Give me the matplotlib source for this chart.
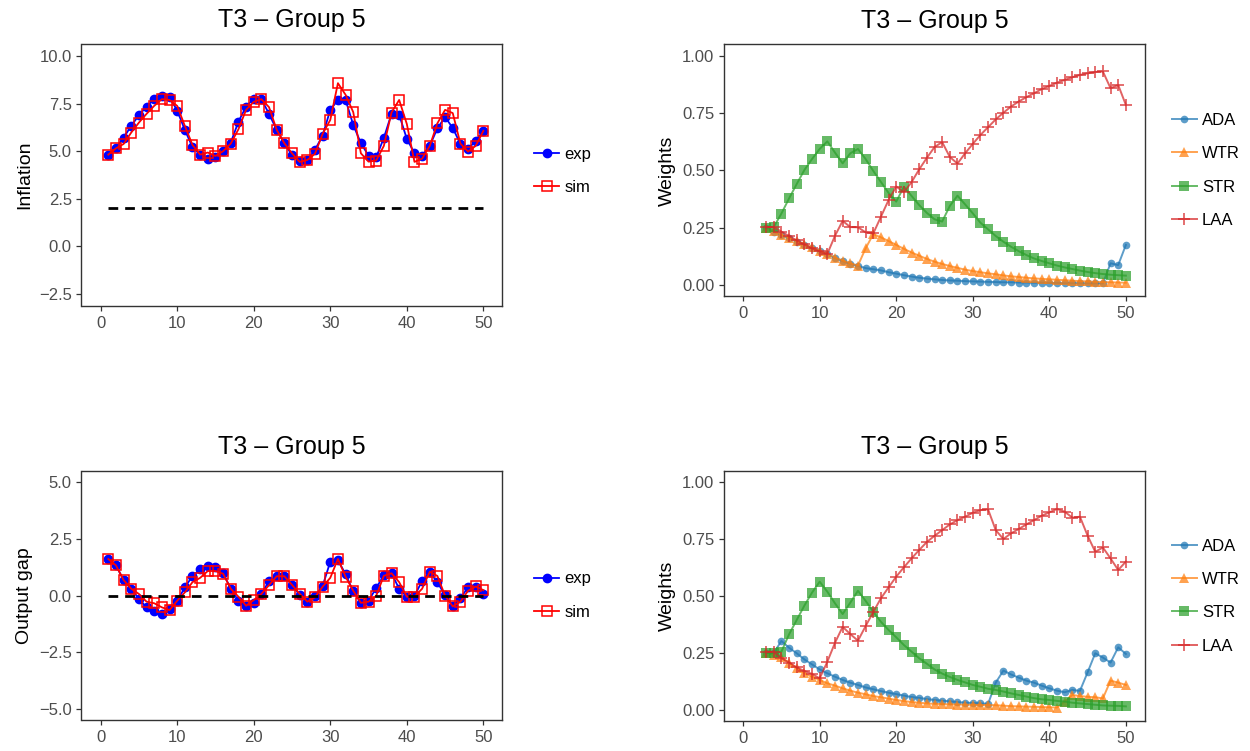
import matplotlib
matplotlib.use('Agg')
import matplotlib.pyplot as plt

plt.rcParams['font.family'] = ['Liberation Sans', 'DejaVu Sans']

# ---- data ----
periods = list(range(1, 51))
periods_w = list(range(3, 51))

inflation_exp = [4.82, 5.16, 5.71, 6.33, 6.89, 7.34, 7.73, 7.92, 7.84, 7.13,
                 6.12, 5.21, 4.82, 4.61, 4.68, 5.02, 5.45, 6.55, 7.34, 7.76,
                 7.73, 6.96, 6.12, 5.42, 4.79, 4.51, 4.54, 5.07, 5.82, 7.17,
                 7.69, 7.69, 6.38, 5.42, 4.77, 4.68, 5.70, 6.96, 6.91, 5.65,
                 4.89, 4.77, 5.28, 6.21, 6.79, 6.22, 5.38, 5.12, 5.54, 6.07]
inflation_sim = [4.82, 5.15, 5.38, 5.98, 6.50, 6.96, 7.38, 7.73, 7.69, 7.38,
                 6.33, 5.33, 4.82, 4.93, 4.75, 5.00, 5.40, 6.15, 7.17, 7.59,
                 7.73, 7.31, 6.12, 5.42, 4.89, 4.44, 4.54, 4.86, 5.91, 6.64,
                 8.57, 7.96, 7.05, 4.89, 4.45, 4.51, 5.28, 7.03, 7.69, 6.43,
                 4.44, 4.61, 5.28, 6.47, 7.17, 7.00, 5.40, 4.98, 5.28, 6.07]
inflation_target = 2.0

gap_exp = [1.61, 1.33, 0.68, 0.30, -0.15, -0.52, -0.68, -0.83, -0.59, -0.24,
           0.36, 0.86, 1.15, 1.31, 1.27, 0.98, 0.30, -0.23, -0.46, -0.32,
           0.08, 0.63, 0.85, 0.85, 0.47, 0.03, -0.27, -0.02, 0.42, 1.49,
           1.56, 0.94, 0.18, -0.32, -0.23, 0.33, 0.90, 0.98, 0.30, -0.05,
           -0.02, 0.65, 1.03, 0.58, 0.01, -0.45, -0.12, 0.36, 0.36, 0.07]
gap_sim = [1.61, 1.33, 0.68, 0.30, 0.07, -0.27, -0.34, -0.52, -0.64, -0.23,
           0.14, 0.59, 0.78, 1.08, 1.08, 0.96, 0.30, -0.05, -0.45, -0.20,
           0.07, 0.46, 0.85, 0.85, 0.47, 0.08, -0.27, -0.08, 0.39, 0.78,
           1.61, 0.83, 0.21, -0.32, -0.27, -0.01, 0.87, 0.98, 0.59, -0.05,
           -0.05, 0.30, 1.05, 0.86, -0.01, -0.48, -0.27, 0.21, 0.40, 0.24]
gap_target = 0.0

# weights, inflation panel (t = 3..50)
ada_inf = [0.250, 0.232, 0.218, 0.204, 0.190, 0.176, 0.162, 0.148, 0.134, 0.118,
           0.104, 0.093, 0.083, 0.074, 0.069, 0.064, 0.056, 0.050, 0.043, 0.037,
           0.032, 0.028, 0.025, 0.022, 0.020, 0.019, 0.017, 0.016, 0.015, 0.014,
           0.013, 0.012, 0.012, 0.011, 0.011, 0.010, 0.010, 0.009, 0.009, 0.008,
           0.008, 0.008, 0.007, 0.007, 0.007, 0.095, 0.087, 0.175]
wtr_inf = [0.250, 0.235, 0.220, 0.206, 0.192, 0.178, 0.164, 0.150, 0.136, 0.120,
           0.107, 0.095, 0.085, 0.160, 0.222, 0.208, 0.192, 0.175, 0.158, 0.142,
           0.128, 0.114, 0.102, 0.092, 0.083, 0.075, 0.067, 0.061, 0.056, 0.051,
           0.047, 0.042, 0.038, 0.035, 0.032, 0.029, 0.027, 0.025, 0.023, 0.021,
           0.019, 0.017, 0.016, 0.014, 0.013, 0.012, 0.011, 0.010]
str_inf = [0.250, 0.253, 0.312, 0.378, 0.441, 0.502, 0.550, 0.594, 0.627, 0.578,
           0.531, 0.575, 0.594, 0.550, 0.498, 0.450, 0.402, 0.364, 0.429, 0.389,
           0.349, 0.315, 0.287, 0.277, 0.345, 0.390, 0.352, 0.313, 0.272, 0.243,
           0.214, 0.189, 0.167, 0.148, 0.131, 0.116, 0.105, 0.095, 0.085, 0.077,
           0.070, 0.063, 0.057, 0.052, 0.048, 0.045, 0.043, 0.041]
laa_inf = [0.253, 0.253, 0.233, 0.214, 0.195, 0.177, 0.160, 0.147, 0.136, 0.215,
           0.280, 0.253, 0.252, 0.230, 0.225, 0.298, 0.371, 0.430, 0.405, 0.449,
           0.505, 0.555, 0.602, 0.624, 0.559, 0.530, 0.575, 0.616, 0.655, 0.689,
           0.723, 0.752, 0.779, 0.801, 0.820, 0.837, 0.855, 0.869, 0.883, 0.895,
           0.907, 0.917, 0.924, 0.930, 0.932, 0.859, 0.873, 0.786]

# weights, output gap panel (t = 3..50)
ada_gap = [0.250, 0.250, 0.303, 0.273, 0.249, 0.222, 0.200, 0.178, 0.161, 0.146,
           0.132, 0.120, 0.110, 0.099, 0.091, 0.083, 0.076, 0.070, 0.063, 0.057,
           0.053, 0.048, 0.044, 0.041, 0.038, 0.035, 0.032, 0.031, 0.029, 0.027,
           0.120, 0.173, 0.156, 0.142, 0.129, 0.120, 0.107, 0.095, 0.085, 0.078,
           0.088, 0.084, 0.165, 0.249, 0.230, 0.208, 0.275, 0.246]
wtr_gap = [0.250, 0.243, 0.231, 0.208, 0.183, 0.161, 0.146, 0.132, 0.117, 0.107,
           0.095, 0.085, 0.076, 0.069, 0.061, 0.056, 0.050, 0.044, 0.039, 0.035,
           0.032, 0.029, 0.027, 0.026, 0.025, 0.024, 0.023, 0.023, 0.022, 0.022,
           0.021, 0.019, 0.017, 0.016, 0.015, 0.014, 0.013, 0.012, 0.011, 0.037,
           0.066, 0.061, 0.058, 0.056, 0.051, 0.129, 0.120, 0.110]
str_gap = [0.250, 0.250, 0.256, 0.332, 0.395, 0.458, 0.515, 0.563, 0.519, 0.468,
           0.421, 0.471, 0.523, 0.479, 0.431, 0.387, 0.351, 0.319, 0.285, 0.256,
           0.227, 0.203, 0.178, 0.160, 0.145, 0.132, 0.121, 0.110, 0.102, 0.093,
           0.088, 0.081, 0.073, 0.066, 0.059, 0.052, 0.047, 0.044, 0.040, 0.037,
           0.032, 0.029, 0.026, 0.023, 0.020, 0.019, 0.018, 0.016]
laa_gap = [0.256, 0.256, 0.227, 0.208, 0.187, 0.171, 0.158, 0.139, 0.212, 0.295,
           0.365, 0.333, 0.304, 0.368, 0.430, 0.490, 0.538, 0.585, 0.626, 0.665,
           0.702, 0.737, 0.764, 0.789, 0.814, 0.833, 0.848, 0.865, 0.877, 0.880,
           0.789, 0.750, 0.775, 0.794, 0.814, 0.833, 0.852, 0.867, 0.882, 0.870,
           0.844, 0.848, 0.765, 0.694, 0.713, 0.665, 0.614, 0.651]

title = 'T3 \u2013 Group 5'
heuristics = ['ADA', 'WTR', 'STR', 'LAA']
h_colors = ['#1f77b4', '#ff7f0e', '#2ca02c', '#d62728']
h_markers = ['o', '^', 's', '+']
h_sizes = [5.5, 6.5, 6.5, 9]


def style_axes(ax):
    ax.set_xlim(-2.5, 52.5)
    ax.set_xticks([0, 10, 20, 30, 40, 50])
    for s in ax.spines.values():
        s.set_color('#333333')
        s.set_linewidth(1.0)
    ax.tick_params(colors='#333333', labelcolor='#4d4d4d', labelsize=12,
                   length=3.5, width=0.9)
    ax.set_title(title, fontsize=18, pad=12)


def add_legend(ax, x, y=0.5):
    ax.legend(loc='center left', bbox_to_anchor=(x, y), frameon=False,
              fontsize=12, handlelength=1.5, handletextpad=0.3, labelspacing=1.1)


def draw_series(ax, exp, sim, target, ylabel, ylim, yticks, leg_y):
    ax.plot(periods, exp, color='#0000ff', lw=1.3, marker='o', ms=6, label='exp')
    ax.plot(periods, sim, color='#ff0000', lw=1.3, marker='s', ms=7.5,
            mfc='none', mew=1.1, label='sim')
    ax.plot([periods[0], periods[-1]], [target, target], color='black', lw=2,
            dashes=(3.5, 2.5))
    style_axes(ax)
    ax.set_ylim(*ylim)
    ax.set_yticks(yticks)
    ax.set_ylabel(ylabel, fontsize=14)
    add_legend(ax, 1.04, leg_y)


def draw_weights(ax, series):
    for name, vals, c, m, s in zip(heuristics, series, h_colors, h_markers, h_sizes):
        ax.plot(periods_w, vals, color=c, alpha=0.72, lw=1.4, marker=m, ms=s,
                mew=1.3 if m == '+' else 0, label=name)
    style_axes(ax)
    ax.set_ylim(-0.05, 1.05)
    ax.set_yticks([0, 0.25, 0.5, 0.75, 1.0])
    ax.set_yticklabels(['0.00', '0.25', '0.50', '0.75', '1.00'])
    ax.set_ylabel('Weights', fontsize=14)
    add_legend(ax, 1.028)


fig = plt.figure(figsize=(12.5, 7.51), dpi=100)
ax1 = fig.add_axes([0.0652, 0.5925, 0.3368, 0.3489])
ax2 = fig.add_axes([0.5792, 0.6052, 0.3368, 0.3356])
ax3 = fig.add_axes([0.0652, 0.0407, 0.3368, 0.3326])
ax4 = fig.add_axes([0.5792, 0.0394, 0.3368, 0.3339])

draw_series(ax1, inflation_exp, inflation_sim, inflation_target, 'Inflation',
            (-3.125, 10.625), [-2.5, 0, 2.5, 5, 7.5, 10], 0.515)
ax1.set_yticklabels(['\u22122.5', '0.0', '2.5', '5.0', '7.5', '10.0'])
draw_weights(ax2, [ada_inf, wtr_inf, str_inf, laa_inf])
draw_series(ax3, gap_exp, gap_sim, gap_target, 'Output gap',
            (-5.5, 5.5), [-5, -2.5, 0, 2.5, 5], 0.5)
ax3.set_yticklabels(['\u22125.0', '\u22122.5', '0.0', '2.5', '5.0'])
draw_weights(ax4, [ada_gap, wtr_gap, str_gap, laa_gap])

fig.savefig('out.png', dpi=100)
